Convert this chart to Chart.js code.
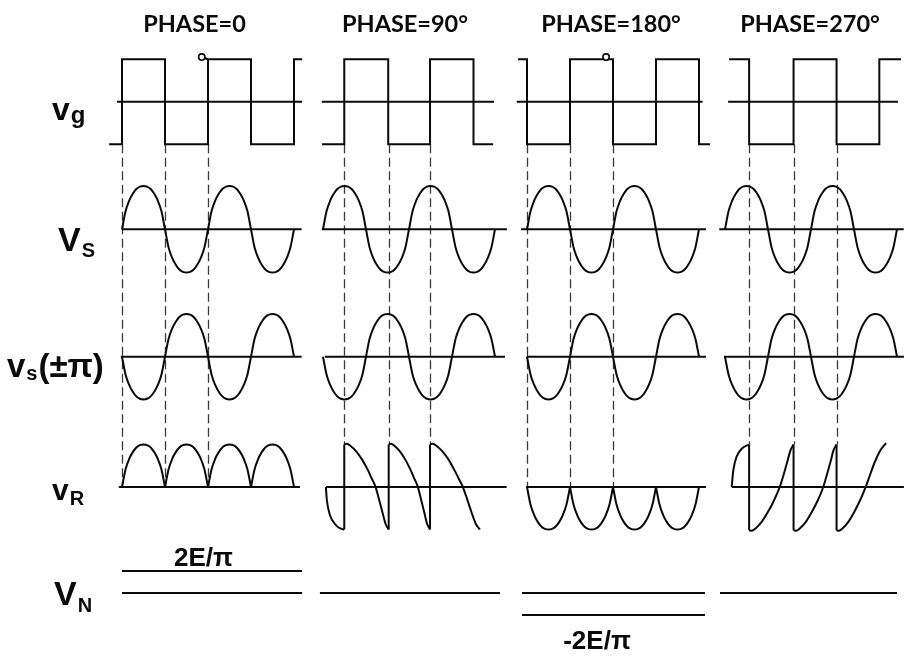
<!DOCTYPE html>
<html>
<head>
<meta charset="utf-8">
<script src="https://cdn.jsdelivr.net/npm/chart.js@4.4.0/dist/chart.umd.min.js"></script>
<style>
  html, body { margin: 0; padding: 0; background: #fff; }
  #wrap { width: 905px; height: 657px; position: relative; }
  canvas { display: block; }
</style>
</head>
<body>
<div id="wrap"><canvas id="c" width="905" height="657"></canvas></div>
<script>
// ---- column headings ----
const phaseTitles = ['PHASE=0', 'PHASE=90°', 'PHASE=180°', 'PHASE=270°'];

// ---- gate drive v_g per column: [angle (deg), level] ----
const vgPhase0   = [[-54,-1],[0,-1],[0,1],[180,1],[180,-1],[360,-1],[360,1],[540,1],[540,-1],[720,-1],[720,1],[754,1]];
const vgPhase90  = [[-4,-1],[89,-1],[89,1],[273,1],[273,-1],[448,-1],[448,1],[630,1],[630,-1],[712,-1]];
const vgPhase180 = [[-38,1],[0,1],[0,-1],[180,-1],[180,1],[360,1],[360,-1],[540,-1],[540,1],[720,1],[720,-1],[766,-1]];
const vgPhase270 = [[17,1],[101,1],[101,-1],[287,-1],[287,1],[467,1],[467,-1],[646,-1],[646,1],[737,1]];

// switching contact marks on v_g (angle, level); null where a column has none
const contactPoints = [[334,1.05], null, [331,1.05], null];

// ---- one half-cycle lobe of v_s as drawn: [angle within lobe, level] ----
const lobeAngles = [0,15,30,45,60,75,90,105,120,135,150,165,180];
const lobeLevels = [0,0.42,0.66,0.82,0.93,0.985,1,0.985,0.93,0.82,0.66,0.42,0];

// sign of each successive half-cycle lobe
const vsLobes      = [1, -1, 1, -1];
const vsShiftLobes = [-1, 1, -1, 1];
const vrLobes0     = [1, 1, 1, 1];
const vrLobes180   = [-1, -1, -1, -1];

// ---- demodulated output v_R for the 90° and 270° columns (null = break) ----
const vrPhase90 = [[12,0],[16,-0.3],[29,-0.66],[50,-0.87],[70,-0.97],[89,-1], null,
  [89,1.0],[100,1.02],[117,0.96],[139,0.84],[163,0.65],[186,0.42],[204,0.2],[219,0.02],[234,-0.28],[249,-0.6],[262,-0.87],[275,-1.0], null,
  [275,1.0],[285,1.02],[301,0.96],[322,0.84],[344,0.65],[365,0.42],[382,0.2],[396,0.02],[410,-0.28],[424,-0.6],[436,-0.87],[448,-1.0], null,
  [448,1.0],[460,1.02],[477,0.96],[500,0.84],[525,0.65],[548,0.42],[568,0.2],[584,0.02],[603,-0.28],[622,-0.6],[640,-0.87],[657,-1.0]];
const vrJumps90 = [[89,-1],[89,1], null, [275,-1],[275,1], null, [448,-1],[448,1]];
const vrPhase270 = [[28,0],[35,0.4],[49,0.72],[70,0.9],[101,1.0], null,
  [101,-1.02],[112,-1.03],[129,-0.97],[151,-0.84],[175,-0.63],[198,-0.4],[216,-0.18],[231,0.03],[246,0.3],[261,0.6],[274,0.86],[287,1.0], null,
  [287,-1.02],[298,-1.03],[314,-0.97],[336,-0.84],[359,-0.63],[381,-0.4],[399,-0.18],[413,0.03],[427,0.3],[442,0.6],[454,0.86],[467,1.0], null,
  [467,-1.02],[477,-1.03],[493,-0.97],[514,-0.84],[537,-0.63],[558,-0.4],[576,-0.18],[591,0.03],[608,0.3],[628,0.6],[650,0.86],[674,1.03]];
const vrJumps270 = [[101,1],[101,-1.02], null, [287,1],[287,-1.02], null, [467,1],[467,-1.02]];

// ---- mean output V_N (units of E) ----
const vnLevels = [2 / Math.PI, 0, -2 / Math.PI, 0];
const vnLabels = ['2E/π', null, '-2E/π', null];

// ---- switching instants carried down by the dashed guides ----
const guideAngles = [[0,180,360],[89,275,448],[0,180,360],[101,287,467]];
const guideEndLevel = [0, 1, 0, 1];   // v_R level where each guide stops

// ---- horizontal zero lines: angular span per row and column ----
const spanVg = [[-21,754],[-5,716],[-43,735],[13,724]];
const spanVs = [[-1,752],[-5,770],[-25,749],[-24,748]];
const spanVp = [[-5,752],[8,762],[-1,749],[-4,749]];
const spanVr = [[-13,745],[13,769],[-4,749],[28,749]];
const spanVn = [[0,754],[-13,741],[-21,745],[-21,720]];

// ---------------- layout of the panels ----------------
const W = 905, H = 657;
const colOrigin = [122, 323, 527, 725];     // pixel where 0° of each column sits
const pxPerCycle = 86;
const rows = { yG: [101.7, 42.5], yS: [229.3, 43.3], yP: [356.7, 42.7], yR: [487, 42.5], yN: [593, 34.5] };

const scales = {};
colOrigin.forEach((o, i) => {
  const k = 360 / pxPerCycle;
  scales['x' + i] = { type: 'linear', display: false, min: -o * k, max: (W - o) * k };
});
Object.entries(rows).forEach(([id, [axisPx, amp]]) => {
  scales[id] = { type: 'linear', display: false, min: -(H - axisPx) / amp, max: axisPx / amp };
});

// chain lobes into a point list; joined = continuous wave, else broken at each cusp
function lobeTrain(signs, joined) {
  const out = [];
  signs.forEach((sg, k) => {
    if (k > 0 && !joined) out.push(null);
    lobeAngles.forEach((a, i) => {
      if (k > 0 && joined && i === 0) return;
      out.push([k * 180 + a, sg * lobeLevels[i]]);
    });
  });
  return out;
}

const INK = '#0a0a0a';
function pts(list) {
  let lastX = 0;
  return list.map(p => {
    if (p === null) return { x: lastX, y: null };
    lastX = p[0];
    return { x: p[0], y: p[1] };
  });
}
function line(list, col, row, extra) {
  return Object.assign({
    data: pts(list), xAxisID: 'x' + col, yAxisID: row,
    borderColor: INK, borderWidth: 2, pointRadius: 0, tension: 0,
    fill: false, spanGaps: false
  }, extra || {});
}
const smooth = { cubicInterpolationMode: 'monotone' };

const datasets = [];
// contact marks first so they are painted on top
contactPoints.forEach((p, c) => {
  if (!p) return;
  const list = c === 0 ? [p, [360, 1]] : [p];
  datasets.push(line(list, c, 'yG', {
    pointRadius: list.map((_, i) => i === 0 ? 3.2 : 0),
    pointStyle: 'circle', pointBackgroundColor: '#fff', pointBorderColor: INK,
    pointBorderWidth: 1.6, showLine: c === 0
  }));
});

const vgAll = [vgPhase0, vgPhase90, vgPhase180, vgPhase270];
const vrAll = [lobeTrain(vrLobes0, false), vrPhase90, lobeTrain(vrLobes180, false), vrPhase270];
const vrJumps = [null, vrJumps90, null, vrJumps270];
const sinePts = lobeTrain(vsLobes, true);
const shiftPts = lobeTrain(vsShiftLobes, true);

for (let c = 0; c < 4; c++) {
  datasets.push(line(vgAll[c], c, 'yG'));
  datasets.push(line(sinePts, c, 'yS', smooth));
  datasets.push(line(shiftPts, c, 'yP', smooth));
  datasets.push(line(vrAll[c], c, 'yR', smooth));
  if (vrJumps[c]) datasets.push(line(vrJumps[c], c, 'yR'));
  if (vnLevels[c] !== 0) datasets.push(line([[spanVn[c][0], vnLevels[c]], [spanVn[c][1], vnLevels[c]]], c, 'yN'));
  // zero lines
  [[spanVg, 'yG'], [spanVs, 'yS'], [spanVp, 'yP'], [spanVr, 'yR'], [spanVn, 'yN']].forEach(([span, row]) => {
    datasets.push(line([[span[c][0], 0], [span[c][1], 0]], c, row));
  });
}

// white page behind everything
const paper = {
  id: 'paper',
  beforeDraw(chart) {
    const ctx = chart.ctx;
    ctx.save(); ctx.fillStyle = '#fff'; ctx.fillRect(0, 0, chart.width, chart.height); ctx.restore();
  }
};

// dashed guides from the v_g switching edges down to v_R
const guides = {
  id: 'guides',
  beforeDatasetsDraw(chart) {
    const ctx = chart.ctx, s = chart.scales;
    ctx.save();
    ctx.strokeStyle = '#3a3a3a'; ctx.lineWidth = 1.3; ctx.setLineDash([9, 4.5]);
    guideAngles.forEach((angles, c) => {
      const xs = s['x' + c];
      const y0 = s.yG.getPixelForValue(-1);
      const y1 = s.yR.getPixelForValue(guideEndLevel[c]);
      angles.forEach(a => {
        const x = Math.round(xs.getPixelForValue(a)) + 0.5;
        ctx.beginPath(); ctx.moveTo(x, y0); ctx.lineTo(x, y1); ctx.stroke();
      });
    });
    ctx.restore();
  }
};

// headings, row names and V_N values
function subLabel(ctx, x, y, main, mainSize, sub, subSize, subDrop, tail) {
  ctx.font = `bold ${mainSize}px "Liberation Sans", Arial, sans-serif`;
  ctx.fillText(main, x, y);
  let cx = x + ctx.measureText(main).width + 1;
  ctx.font = `bold ${subSize}px "Liberation Sans", Arial, sans-serif`;
  ctx.fillText(sub, cx, y + subDrop);
  cx += ctx.measureText(sub).width;
  if (tail) {
    ctx.font = `bold ${mainSize}px "Liberation Sans", Arial, sans-serif`;
    ctx.fillText(tail, cx + 1, y);
  }
}
const titleX = [194.5, 405, 611, 810];
const texts = {
  id: 'texts',
  afterDatasetsDraw(chart) {
    const ctx = chart.ctx, s = chart.scales;
    ctx.save();
    ctx.fillStyle = INK;
    ctx.textBaseline = 'alphabetic';
    ctx.textAlign = 'center';
    ctx.font = 'bold 23.5px Lato, "Open Sans", sans-serif';
    phaseTitles.forEach((t, i) => ctx.fillText(t, titleX[i], 32));

    ctx.font = 'bold 26px "Liberation Sans", Arial, sans-serif';
    vnLabels.forEach((t, c) => {
      if (!t) return;
      const xs = s['x' + c];
      const cx = xs.getPixelForValue(c === 0 ? 341 : 293);
      const y = s.yN.getPixelForValue(vnLevels[c]);
      ctx.fillText(t, cx, vnLevels[c] > 0 ? y - 5 : y + 34);
    });

    ctx.textAlign = 'left';
    subLabel(ctx, 52, 120, 'v', 32, 'g', 24, 3);
    subLabel(ctx, 58, 251, 'V', 34, 'S', 20, 6);
    subLabel(ctx, 7, 377, 'v', 33, 's', 20, 3, '(±π)');
    subLabel(ctx, 52, 500, 'v', 30, 'R', 20, 5);
    subLabel(ctx, 54, 605, 'V', 34, 'N', 20, 7);
    ctx.restore();
  }
};

new Chart(document.getElementById('c'), {
  type: 'line',
  data: { datasets },
  options: {
    responsive: false,
    animation: false,
    devicePixelRatio: 1,
    layout: { padding: 0, autoPadding: false },
    scales,
    plugins: { legend: { display: false }, title: { display: false }, tooltip: { enabled: false } },
    elements: { line: { borderCapStyle: 'butt', borderJoinStyle: 'miter' } }
  },
  plugins: [paper, guides, texts]
});
</script>
</body>
</html>
